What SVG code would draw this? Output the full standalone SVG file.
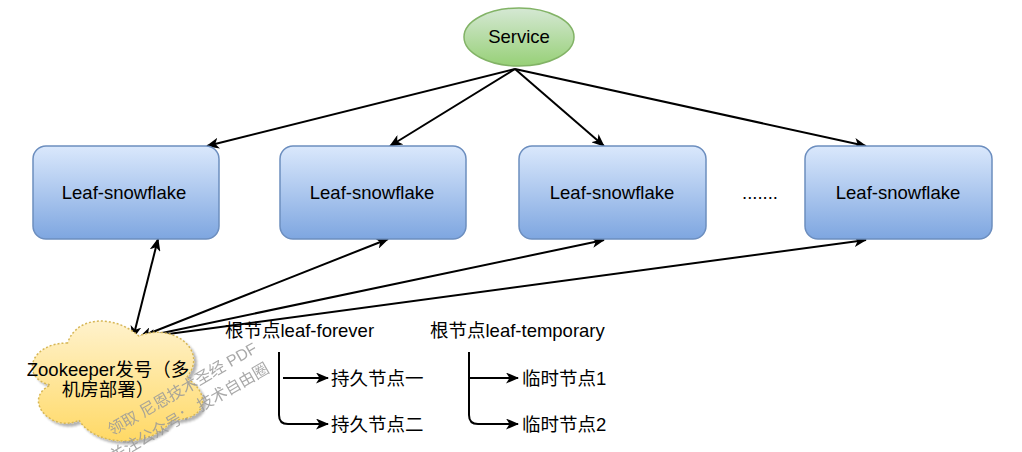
<svg xmlns="http://www.w3.org/2000/svg" width="1022" height="452" viewBox="0 0 1022 452">
<defs>
<linearGradient id="gBlue" x1="0" y1="0" x2="0" y2="1"><stop offset="0" stop-color="#dae8fc"/><stop offset="1" stop-color="#7ea6e0"/></linearGradient>
<linearGradient id="gGreen" x1="0" y1="0" x2="0" y2="1"><stop offset="0" stop-color="#d5e8d4"/><stop offset="1" stop-color="#97d077"/></linearGradient>
<linearGradient id="gYellow" x1="0" y1="0" x2="0" y2="1"><stop offset="0" stop-color="#fff2cc"/><stop offset="1" stop-color="#ffd966"/></linearGradient>
<marker id="arr" viewBox="0 0 13 11" refX="12" refY="5.5" markerWidth="13" markerHeight="11" markerUnits="userSpaceOnUse" orient="auto-start-reverse"><path d="M0,0 L13,5.5 L0,11 L3.5,5.5 Z" fill="#000"/></marker>
<filter id="shadow" x="-10%" y="-10%" width="130%" height="130%"><feOffset dx="3" dy="3" in="SourceAlpha"/><feGaussianBlur stdDeviation="1.2"/><feComponentTransfer><feFuncA type="linear" slope="0.3"/></feComponentTransfer><feMerge><feMergeNode/><feMergeNode in="SourceGraphic"/></feMerge></filter>
</defs>
<style>
.box{fill:url(#gBlue);stroke:#6c8ebf;stroke-width:1.5}
.t{font-family:"Liberation Sans","Noto Sans CJK SC",sans-serif;font-size:18.5px;fill:#000}
.c{stroke:#000;stroke-width:2;fill:none}
.wm{font-family:"Liberation Sans","Noto Sans CJK SC",sans-serif;font-size:16px;fill:#9a9a9a;opacity:0.85}
</style>
<g id="connectors">
<line class="c" x1="515" y1="69" x2="207" y2="146" marker-end="url(#arr)"/>
<line class="c" x1="515" y1="69" x2="390" y2="146" marker-end="url(#arr)"/>
<line class="c" x1="515" y1="69" x2="604" y2="146" marker-end="url(#arr)"/>
<line class="c" x1="515" y1="69" x2="866" y2="146" marker-end="url(#arr)"/>
<line class="c" x1="133" y1="338" x2="158" y2="239" marker-start="url(#arr)" marker-end="url(#arr)"/>
<line class="c" x1="140" y1="337" x2="388" y2="239" marker-start="url(#arr)" marker-end="url(#arr)"/>
<line class="c" x1="143" y1="337" x2="604" y2="240" marker-start="url(#arr)" marker-end="url(#arr)"/>
<line class="c" x1="146" y1="337" x2="866" y2="240" marker-start="url(#arr)" marker-end="url(#arr)"/>
<path class="c" d="M279,352 L279,415 Q279,424 288,424 L328,424" marker-end="url(#arr)"/>
<line class="c" x1="283" y1="378" x2="328" y2="378" marker-end="url(#arr)"/>
<path class="c" d="M469,352 L469,415 Q469,424 478,424 L518,424" marker-end="url(#arr)"/>
<line class="c" x1="469" y1="378" x2="518" y2="378" marker-end="url(#arr)"/>
</g>
<g id="service">
<ellipse cx="519" cy="37" rx="55" ry="29" fill="url(#gGreen)" stroke="#82b366" stroke-width="1.5"/>
<text class="t" x="519" y="43" text-anchor="middle">Service</text>
</g>
<g id="leaf1"><rect class="box" x="33" y="146" width="186" height="93" rx="13"/><text class="t" x="124" y="199" text-anchor="middle">Leaf-snowflake</text></g>
<g id="leaf2"><rect class="box" x="280" y="146" width="186" height="93" rx="13"/><text class="t" x="372" y="199" text-anchor="middle">Leaf-snowflake</text></g>
<g id="leaf3"><rect class="box" x="519" y="146" width="187" height="93" rx="13"/><text class="t" x="612" y="199" text-anchor="middle">Leaf-snowflake</text></g>
<g id="leaf4"><rect class="box" x="805" y="146" width="187" height="93" rx="13"/><text class="t" x="898" y="199" text-anchor="middle">Leaf-snowflake</text></g>
<g id="dots"><text class="t" x="760" y="199" text-anchor="middle">.......</text></g>
<g id="zookeeper">
<path filter="url(#shadow)" fill="url(#gYellow)" stroke="#d6b656" stroke-width="1.5" stroke-dasharray="2 2" d="M67.5,343 C29.5,343 20,378 50.4,385 C20,400.4 54.2,434 78.9,420 C96,448 153,448 172,420 C210,420 210,392 186.3,378 C210,350 172,322 138.75,336 C115,315 77,315 67.5,343 Z"/>
<text class="t" x="108" y="376" text-anchor="middle">Zookeeper发号（多</text>
<text class="t" x="108" y="396" text-anchor="middle">机房部署）</text>
</g>
<g id="root-forever"><text class="t" x="225" y="337">根节点leaf-forever</text></g>
<g id="root-temporary"><text class="t" x="430" y="337">根节点leaf-temporary</text></g>
<g id="p1"><text class="t" x="331" y="385">持久节点一</text></g>
<g id="p2"><text class="t" x="331" y="431">持久节点二</text></g>
<g id="t1"><text class="t" x="522" y="385">临时节点1</text></g>
<g id="t2"><text class="t" x="522" y="431">临时节点2</text></g>
<g id="watermark">
<text class="wm" transform="translate(112,436) rotate(-30)">领取 尼恩技术圣经 PDF</text>
<text class="wm" transform="translate(114,462) rotate(-30)">关注公众号：  技术自由圈</text>
</g>
</svg>
